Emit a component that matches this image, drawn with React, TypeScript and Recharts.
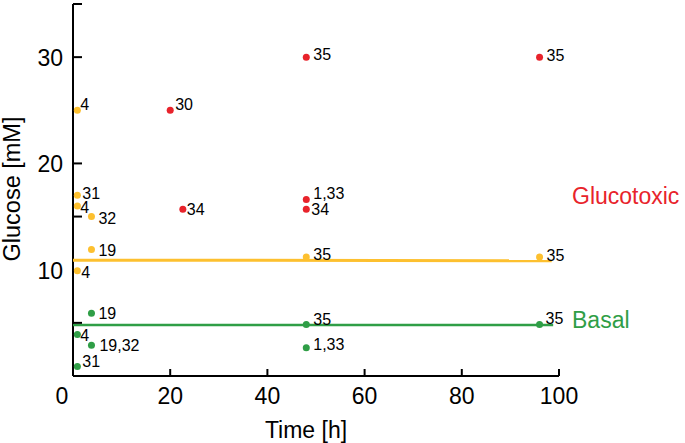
import React from 'react';
import { ScatterChart, Scatter, XAxis, YAxis } from 'recharts';

// Glucotoxic (high glucose) reference points
const redHours = [48, 96, 20, 22.6, 48, 48];
const redGlucose = [30, 30, 25, 15.7, 16.6, 15.7];
const redRefs = ['35', '35', '30', '34', '1,33', '34'];

// Intermediate (yellow) points
const yellowHours = [0.9, 0.9, 0.9, 3.8, 3.8, 0.9, 48, 96];
const yellowGlucose = [25, 17, 16, 15, 11.9, 9.9, 11.2, 11.2];
const yellowRefs = ['4', '31', '4', '32', '19', '4', '35', '35'];

// Basal points
const greenHours = [3.8, 0.9, 3.8, 0.9, 48, 48, 96];
const greenGlucose = [5.9, 3.9, 2.9, 0.9, 4.85, 2.65, 4.85];
const greenRefs = ['19', '4', '19,32', '31', '35', '1,33', '35'];

// Threshold lines
const glucotoxicLineHours = [0, 98.5];
const glucotoxicLineGlucose = [10.9, 10.85];
const basalLineHours = [0, 98.8];
const basalLineGlucose = [4.8, 4.8];

const xTicks = [0, 20, 40, 60, 80, 100];
const yTicks = [5, 10, 15, 20, 25, 30, 35];
const yLabelled = [10, 20, 30];
// tick marks hidden under the dots sitting on the axis
const yTickHidden = [10, 25];

// text annotation nudges (px) for the reference-number labels: [dx, dy]
const redNudge = [[7, -3], [7, -2], [5, -6], [4, 0], [7, -7], [5, 0]];
const yellowNudge = [[3, -6], [5, -2], [3, 1], [7, 1], [7, 0], [4, 1], [7, -3], [7, -2]];
const greenNudge = [[7, 0], [3, 0], [8, 0], [5, -5], [7, -5], [7, -3.5], [6, -6]];

const RED = '#E8232B';
const YELLOW = '#FDC02F';
const GREEN = '#2F9E46';
const FONT = '"Liberation Sans", Arial, Helvetica, sans-serif';

const zip = (xs: number[], ys: number[], refs?: string[], nudge?: number[][]) =>
  xs.map((x, i) => ({ x, y: ys[i], ref: refs ? refs[i] : '', nd: nudge ? nudge[i] : [6, -3] }));

const redData = zip(redHours, redGlucose, redRefs, redNudge);
const yellowData = zip(yellowHours, yellowGlucose, yellowRefs, yellowNudge);
const greenData = zip(greenHours, greenGlucose, greenRefs, greenNudge);
const yellowLine = zip(glucotoxicLineHours, glucotoxicLineGlucose);
const greenLine = zip(basalLineHours, basalLineGlucose);

const makeDot = (color: string) => (props: any) => {
  const { cx, cy, payload } = props;
  const [dx, dy] = payload.nd;
  return (
    <g>
      <circle cx={cx} cy={cy} r={3.5} fill={color} />
      <text x={cx + dx} y={cy + dy + 6} fontSize={16} fontFamily={FONT} fill="#000">
        {payload.ref}
      </text>
    </g>
  );
};

const NoShape = () => <g />;

const YTick = (props: any) => {
  const { x, y, payload } = props;
  const v = payload.value;
  return (
    <g>
      {!yTickHidden.includes(v) && <line x1={x} y1={y} x2={x + 9} y2={y} stroke="#000" strokeWidth={2} />}
      {yLabelled.includes(v) && (
        <text x={x - 10} y={y + 9} textAnchor="end" fontSize={23} fontFamily={FONT} fill="#000">
          {v}
        </text>
      )}
    </g>
  );
};

const XTick = (props: any) => {
  const { x, y, payload } = props;
  const v = payload.value;
  return (
    <g>
      {v !== 0 && <line x1={x} y1={y} x2={x} y2={y - 7} stroke="#000" strokeWidth={2} />}
      <text x={v === 0 ? x - 11 : x} y={y + 28} textAnchor="middle" fontSize={23} fontFamily={FONT} fill="#000">
        {v}
      </text>
    </g>
  );
};

export default function App() {
  return (
    <div style={{ position: 'absolute', left: 0, top: 0, width: 685, height: 443, background: '#fff' }}>
      <ScatterChart width={685} height={443} margin={{ top: 4, right: 126, bottom: 0, left: 0 }}>
        <XAxis
          type="number"
          dataKey="x"
          domain={[0, 100]}
          ticks={xTicks}
          height={67}
          tickSize={0}
          tickMargin={0}
          tickLine={false}
          axisLine={{ stroke: '#000', strokeWidth: 2 }}
          tick={<XTick />}
          interval={0}
        />
        <YAxis
          type="number"
          dataKey="y"
          domain={[0, 35]}
          ticks={yTicks}
          width={73}
          tickSize={0}
          tickMargin={0}
          tickLine={false}
          axisLine={{ stroke: '#000', strokeWidth: 2 }}
          tick={<YTick />}
          interval={0}
        />
        <Scatter data={yellowLine} line={{ stroke: YELLOW, strokeWidth: 3 }} lineType="joint" shape={NoShape} isAnimationActive={false} />
        <Scatter data={greenLine} line={{ stroke: GREEN, strokeWidth: 2.5 }} lineType="joint" shape={NoShape} isAnimationActive={false} />
        <Scatter data={redData} shape={makeDot(RED)} isAnimationActive={false} />
        <Scatter data={yellowData} shape={makeDot(YELLOW)} isAnimationActive={false} />
        <Scatter data={greenData} shape={makeDot(GREEN)} isAnimationActive={false} />
      </ScatterChart>
      <svg width={685} height={443} style={{ position: 'absolute', left: 0, top: 0, pointerEvents: 'none' }}>
        <text x={306} y={438} textAnchor="middle" fontSize={23} fontFamily={FONT} fill="#000">
          Time [h]
        </text>
        <text
          x={0}
          y={0}
          transform="translate(20,189) rotate(-90)"
          textAnchor="middle"
          fontSize={23.5}
          fontFamily={FONT}
          fill="#000"
        >
          Glucose [mM]
        </text>
        <text x={572} y={204} fontSize={23} fontFamily={FONT} fill={RED}>
          Glucotoxic
        </text>
        <text x={572} y={328} fontSize={23} fontFamily={FONT} fill={GREEN}>
          Basal
        </text>
      </svg>
    </div>
  );
}
